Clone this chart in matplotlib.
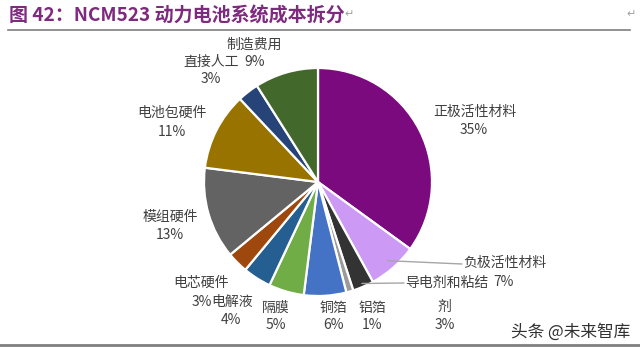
import matplotlib
matplotlib.use("Agg")
import matplotlib.pyplot as plt
import numpy as np

plt.rcParams['font.family'] = ['Noto Sans CJK SC', 'DejaVu Sans']

categories = ['正极活性材料', '负极活性材料', '导电剂和粘结剂', '铝箔', '铜箔', '隔膜',
              '电解液', '电芯硬件', '模组硬件', '电池包硬件', '直接人工', '制造费用']
values = [35, 7, 3, 1, 6, 5, 4, 3, 13, 11, 3, 9]
colors = ['#7B0A7E', '#CC99F5', '#333333', '#9A9A9A', '#4472C4', '#70AD47',
          '#255E91', '#9E480E', '#636363', '#997300', '#264478', '#43682B']

W, H = 640, 351
fig = plt.figure(figsize=(W / 100, H / 100), dpi=100)

def fx(x):
    return x / W

def fy(y):
    return 1 - y / H

cx, cy, r = 318, 182, 114
ax = fig.add_axes([fx(cx - r), fy(cy + r), 2 * r / W, 2 * r / H])
wedges, _ = ax.pie(values, colors=colors, startangle=90, counterclock=False,
                   wedgeprops=dict(edgecolor='white', linewidth=1.6))
ax.set_xlim(-1, 1)
ax.set_ylim(-1, 1)
ax.set_aspect('equal')
ax.axis('off')

tc = '#404040'
fs = 10

def lab(x, y, s, ha='center'):
    fig.text(fx(x), fy(y), s, ha=ha, va='center', fontsize=fs, color=tc)

# labels (name, pct) positions
lab(475, 112, categories[0]); lab(474, 130, f'{values[0]}%')
lab(505, 263, categories[1]); lab(504, 282, f'{values[1]}%')
lab(447, 283, '导电剂和粘结'); lab(444, 307, '剂'); lab(445, 325, f'{values[2]}%')
lab(372, 308, categories[3]); lab(372, 325, f'{values[3]}%')
lab(333, 308, categories[4]); lab(333, 325, f'{values[4]}%')
lab(276, 308, categories[5]); lab(276, 325, f'{values[5]}%')
lab(232, 302, categories[6]); lab(231, 320, f'{values[6]}%')
lab(201, 283, categories[7]); lab(202, 302, f'{values[7]}%')
lab(170, 217, categories[8]); lab(170, 235, f'{values[8]}%')
lab(172, 113, categories[9]); lab(172, 132, f'{values[9]}%')
lab(211, 62, categories[10]); lab(211, 79, f'{values[10]}%')
lab(254, 45, categories[11]); lab(255, 62, f'{values[11]}%')

# leader lines
cum = np.cumsum([0] + values)
def edge_point(i, rr):
    mid = (cum[i] + cum[i + 1]) / 2 / sum(values) * 360
    ang = np.deg2rad(90 - mid)
    return rr * np.cos(ang), rr * np.sin(ang)

for i, (tx, ty), rr in [(1, (462, 264), 0.92), (2, (404, 283), 0.97)]:
    px, py = edge_point(i, rr)
    ax.annotate('', xy=(px, py), xycoords='data',
                xytext=(fx(tx), fy(ty)), textcoords='figure fraction',
                arrowprops=dict(arrowstyle='-', color='#A6A6A6', lw=1.0,
                                shrinkA=0, shrinkB=0),
                annotation_clip=False)

# title
fig.text(fx(9), fy(16), '图 42：NCM523 动力电池系统成本拆分', ha='left', va='center',
         fontsize=13.7, fontweight='bold', color='#7E2A7F')
fig.text(fx(344), fy(14), '↵', ha='left', va='center', fontsize=8, color='#A0A0A0',
         family=['DejaVu Sans'])
fig.text(fx(626), fy(14), '↵', ha='left', va='center', fontsize=8, color='#A0A0A0',
         family=['DejaVu Sans'])

# rules
fig.add_artist(plt.Line2D([fx(8), fx(630)], [fy(30), fy(30)], color='#7F7F7F', lw=1.2))
fig.add_artist(plt.Line2D([fx(0), fx(640)], [fy(345), fy(345)], color='#7F7F7F', lw=2.0))

# watermark
fig.text(fx(571), fy(332), '头条 @未来智库', ha='center', va='center', fontsize=12,
         color='#303030')

fig.savefig('out.png', dpi=100, facecolor='white')
